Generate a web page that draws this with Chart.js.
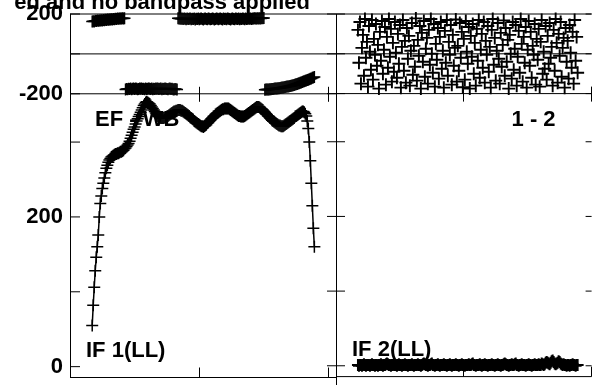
<!DOCTYPE html>
<html>
<head>
<meta charset="utf-8">
<script src="https://cdn.jsdelivr.net/npm/chart.js@4.4.1/dist/chart.umd.min.js"></script>
<style>
  html, body { margin: 0; padding: 0; background: #fff; overflow: hidden; }
  #wrap { position: relative; width: 596px; height: 385px; overflow: hidden; }
  canvas { position: absolute; top: 0; }
  #left { left: 0; }
  #right { left: 320px; }
</style>
</head>
<body>
<div id="wrap">
  <canvas id="left" width="336" height="385"></canvas>
  <canvas id="right" width="280" height="385"></canvas>
</div>
<script>
// POSSM style spectrum: phase (top) and amplitude (bottom) per IF
const titleText = 'ed and no bandpass applied';
const baselineLabel = 'EF - WB';
const antennaLabel = '1 - 2';
const ifLabels = ['IF 1(LL)', 'IF 2(LL)'];

const firstChannel = 22;
const channelTicks = [0, 128, 256];
const phaseTicks = [-200, 0, 200];
const phaseTickLabels = ['-200', '', '200'];
const ampTicks = [0, 100, 200, 300];
const ampTickLabels = ['0', '', '200', ''];

const ampIF1 = [
  55, 82, 106, 128, 146, 160, 176, 200, 218, 228,
  238, 245, 252, 259, 265, 269, 273, 276, 278, 280,
  281, 282, 283, 284, 284, 285, 285, 286, 287, 287,
  288, 289, 291, 292, 294, 296, 298, 301, 305, 309,
  313, 317, 320, 324, 328, 331, 334, 337, 340, 343,
  346, 349, 351, 353, 354, 353, 352, 351, 349, 347,
  345, 343, 341, 339, 337, 335, 334, 333, 332, 332,
  332, 332, 333, 333, 334, 335, 336, 337, 338, 339,
  340, 341, 341, 342, 342, 343, 343, 343, 342, 342,
  341, 340, 339, 338, 337, 336, 335, 333, 332, 331,
  330, 328, 327, 326, 325, 324, 323, 322, 321, 321,
  320, 321, 322, 323, 325, 326, 328, 329, 331, 332,
  334, 335, 337, 338, 339, 340, 341, 342, 343, 344,
  344, 345, 345, 345, 345, 345, 344, 343, 342, 341,
  340, 339, 338, 337, 336, 335, 335, 334, 334, 334,
  334, 335, 336, 337, 338, 339, 340, 341, 342, 343,
  344, 345, 346, 347, 347, 347, 346, 345, 344, 343,
  341, 340, 338, 337, 335, 334, 332, 331, 329, 328,
  327, 326, 325, 324, 323, 322, 322, 321, 321, 321,
  322, 323, 324, 325, 326, 327, 328, 329, 330, 331,
  332, 334, 335, 336, 337, 338, 339, 340, 341, 341,
  340, 338, 335, 328, 318, 300, 275, 245, 215, 185, 160
];

const phaseIF1 = [
  162, 164, 163, 166, 165, 167, 166, 168, 167, 169,
  168, 170, 169, 171, 170, 172, 171, 173, 172, 174,
  173, 175, 174, 176, 175, 177, 176, 177, 178, 177,
  179, 178, 179,
  -178, -176, -177, -175, -176, -174, -177, -175, -173, -176,
  -174, -175, -177, -176, -174, -175, -173, -176, -175, -177,
  -174, -176, -175, -173, -175, -176, -174, -177, -175, -176,
  -174, -175, -173, -176, -175, -174, -177, -175, -176, -174,
  -175, -176, -177, -175, -174, -176, -175, -177, -178, -176,
  -177, -179,
  179, 177, 178, 176, 177, 175, 178, 176, 174, 177,
  175, 176, 178, 174, 176, 175, 177, 173, 176, 175,
  178, 174, 176, 177, 175, 173, 176, 178, 175, 174,
  177, 176, 174, 175, 178, 176, 173, 175, 177, 176,
  174, 176, 178, 175, 173, 177, 175, 176, 174, 178,
  176, 175, 173, 176, 177, 175, 174, 178, 176, 175,
  177, 174, 176, 175, 178, 176, 174, 177, 175, 176,
  178, 176, 177, 175, 178, 177, 179, 178, 177, 179,
  178, 179, 178, 180, 179, 180,
  -180, -179, -179, -178, -178, -177, -177, -176, -176, -175,
  -174, -174, -173, -172, -172, -171, -170, -169, -168, -167,
  -166, -165, -164, -163, -162, -161, -160, -158, -157, -156,
  -154, -152, -151, -149, -147, -145, -143, -141, -139, -137,
  -135, -133, -131, -129, -127, -125, -123, -120, -118, -116
];

const ampIF2 = [
  1, 0, 1, 1, 0, 1, 2, 1, 0, 1,
  1, 1, 0, 1, 2, 1, 1, 0, 1, 1,
  0, 1, 1, 2, 1, 0, 1, 1, 2, 3,
  2, 1, 1, 0, 1, 1, 2, 1, 1, 0,
  1, 2, 1, 1, 0, 1, 1, 2, 1, 1,
  0, 1, 1, 1, 2, 1, 0, 1, 1, 1,
  2, 1, 1, 0, 1, 2, 3, 2, 1, 1,
  0, 1, 1, 2, 3, 1, 1, 0, 1, 1,
  2, 1, 0, 1, 1, 1, 2, 1, 1, 0,
  1, 1, 2, 1, 0, 1, 1, 1, 2, 1,
  1, 0, 1, 1, 2, 1, 1, 0, 1, 1,
  1, 2, 1, 1, 2, 3, 1, 1, 0, 1,
  1, 1, 2, 1, 0, 1, 1, 2, 1, 1,
  0, 1, 1, 1, 2, 1, 1, 0, 1, 1,
  2, 1, 1, 0, 1, 1, 2, 3, 2, 1,
  1, 0, 1, 1, 2, 1, 1, 2, 3, 1,
  1, 0, 1, 1, 2, 1, 1, 1, 0, 1,
  1, 2, 1, 1, 0, 1, 1, 2, 1, 1,
  1, 2, 1, 1, 3, 2, 1, 2, 4, 5,
  4, 3, 2, 4, 6, 7, 5, 3, 2, 3,
  4, 6, 5, 3, 2, 1, 2, 1, 1, 0,
  1, 1, 0, 1, 1, 2, 1, 1, 0, 1,
  1
];

const phaseIF2 = [
  120, -45, 160, -150, 30, 95, -110, 175, -20, 60,
  -165, 140, 10, -80, 170, -130, 75, -5, 150, -60,
  45, -175, 110, -35, 165, -100, 20, 135, -155, 85,
  -70, 175, -15, 125, -140, 55, -90, 160, 5, -120,
  100, -50, 145, -170, 35, 170, -85, 65, -145, 130,
  -25, 90, -160, 15, 155, -105, 40, -65, 178, -135,
  70, -10, 140, -175, 105, -40, 165, -115, 25, 80,
  -150, 120, -55, 175, 0, -95, 150, -165, 50, -30,
  130, -125, 85, 160, -75, 15, -170, 115, -45, 170,
  -110, 60, -5, 145, -155, 95, -60, 30, 172, -140,
  40, -85, 155, -20, 110, -168, 75, -130, 165, 10,
  -50, 135, -175, 90, -15, 150, -100, 55, -160, 125,
  -35, 170, -120, 20, 100, -70, 160, -145, 65, -5,
  140, -90, 35, -170, 120, 175, -55, 80, -135, 15,
  155, -25, -150, 105, -65, 45, 168, -110, 130, -40,
  70, -175, 95, 0, -125, 160, -80, 25, 145, -160,
  -15, 115, -95, 175, 50, -140, 85, -45, 135, -170,
  20, 165, -60, 110, -120, 40, -5, 150, -155, 75,
  -30, 125, -165, 60, 170, -100, 10, -75, 140, -130,
  90, -50, 155, -20, 35, -160, 120, -85, 175, 55,
  -145, 100, -10, 160, -115, 30, 80, -170, 130, -40,
  65, -125, 145, 5, -70, 110, -150, 170, -35, 85,
  -95
];

const FONT = '"Liberation Sans", Arial, Helvetica, sans-serif';
Chart.defaults.font.family = FONT;

const toPoints = arr => arr.map((v, i) => ({ x: firstChannel + i, y: v }));

function markerSet(values, yAxisID, opts) {
  return Object.assign({
    data: toPoints(values),
    yAxisID: yAxisID,
    showLine: false,
    pointStyle: 'cross',
    pointRadius: 6,
    pointBorderWidth: 1.5,
    borderColor: '#000',
    backgroundColor: '#000',
    borderWidth: 1.5,
    clip: false
  }, opts || {});
}

// left-side stacked boxes are placed in reverse order, so amplitude is listed first
function panelScales(showLabels, axisWidth) {
  const fit = s => { s.width = axisWidth; s.paddingTop = 0; s.paddingBottom = 0; };
  const tickFont = { family: FONT, size: 22, weight: 'bold' };
  const grid = { display: false, drawTicks: false };
  return {
    x: { type: 'linear', min: 0, max: 256, display: false },
    yAmp: {
      type: 'linear', position: 'left', stack: 'panel', stackWeight: 288,
      min: -14.5, max: 364.5,
      afterBuildTicks: s => { s.ticks = ampTicks.map(v => ({ value: v })); },
      afterFit: fit,
      grid: grid, border: { display: false },
      ticks: { display: showLabels, padding: 7, color: '#000', font: tickFont,
               callback: (v, i) => ampTickLabels[i] }
    },
    yPhase: {
      type: 'linear', position: 'left', stack: 'panel', stackWeight: 81,
      min: -200, max: 200,
      afterBuildTicks: s => { s.ticks = phaseTicks.map(v => ({ value: v })); },
      afterFit: fit,
      grid: grid, border: { display: false },
      ticks: { display: showLabels, padding: 7, color: '#000', font: tickFont,
               callback: (v, i) => phaseTickLabels[i] }
    }
  };
}

// frame, ticks and labels in the old AIPS look
function framePlugin(side) {
  return {
    id: 'aipsFrame',
    beforeDatasetsDraw(chart) {
      const { ctx, chartArea: a, scales } = chart;
      const xs = scales.x, yp = scales.yPhase, ya = scales.yAmp;
      const snap = v => Math.floor(v) + 0.5;
      const h = (y, x0, x1) => { ctx.beginPath(); ctx.moveTo(x0, y); ctx.lineTo(x1, y); ctx.stroke(); };
      const v = (x, y0, y1) => { ctx.beginPath(); ctx.moveTo(snap(x), y0); ctx.lineTo(snap(x), y1); ctx.stroke(); };
      ctx.save();
      ctx.strokeStyle = '#000';
      ctx.lineWidth = 1;

      const rightEnd = side === 'left' ? chart.width : a.right;
      [a.top, yp.getPixelForValue(0), yp.bottom, a.bottom].forEach(y => h(y, a.left, rightEnd));
      v(a.left, a.top, side === 'left' ? a.bottom : chart.height);

      [[yp, phaseTicks], [ya, ampTicks]].forEach(([s, list]) => list.forEach(t => {
        const py = s.getPixelForValue(t);
        if (side === 'left') {
          h(py, a.left, a.left + 10);
        } else {
          h(py, a.left - 9, a.left + 9);
          h(py, a.right - 6, a.right);
        }
      }));

      channelTicks.forEach(c => {
        const px = xs.getPixelForValue(c);
        v(px, a.bottom - 10, a.bottom);
        v(px, yp.bottom - 7, yp.bottom + 8);
      });

      ctx.fillStyle = '#000';
      ctx.font = 'bold 22px ' + FONT;
      ctx.textBaseline = 'alphabetic';
      if (side === 'left') {
        ctx.textAlign = 'right';
        ctx.fillText(titleText, 310, 9);
        ctx.textAlign = 'left';
        ctx.fillText(baselineLabel, a.left + 25, yp.bottom + 32);
        ctx.fillText(ifLabels[0], a.left + 16, a.bottom - 21);
      } else {
        ctx.textAlign = 'right';
        ctx.fillText(antennaLabel, a.right - 36, yp.bottom + 32);
        ctx.textAlign = 'left';
        ctx.fillText(ifLabels[1], a.left + 16, a.bottom - 21);
      }
      ctx.restore();
    }
  };
}

const common = {
  responsive: false,
  animation: false,
  devicePixelRatio: 1,
  events: [],
  plugins: { legend: { display: false }, tooltip: { enabled: false } }
};

new Chart(document.getElementById('left').getContext('2d'), {
  type: 'scatter',
  data: {
    datasets: [
      markerSet(phaseIF1, 'yPhase'),
      markerSet(ampIF1, 'yAmp', { showLine: true })
    ]
  },
  options: Object.assign({}, common, {
    layout: { padding: { top: 14, bottom: 2, left: 0, right: 6 } },
    scales: panelScales(true, 70)
  }),
  plugins: [framePlugin('left')]
});

new Chart(document.getElementById('right').getContext('2d'), {
  type: 'scatter',
  data: {
    datasets: [
      markerSet(phaseIF2, 'yPhase', { pointRadius: 6.5, pointBorderWidth: 1.9 }),
      markerSet(ampIF2, 'yAmp', { pointBorderWidth: 2 })
    ]
  },
  options: Object.assign({}, common, {
    layout: { padding: { top: 14, bottom: 2, left: 0, right: 0 } },
    scales: panelScales(false, 16)
  }),
  plugins: [framePlugin('right')]
});
</script>
</body>
</html>
